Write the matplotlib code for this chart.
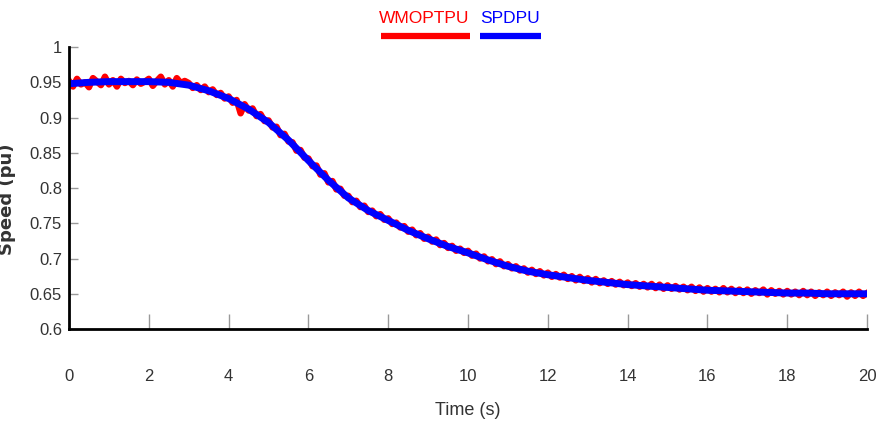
import matplotlib
matplotlib.use("Agg")
import matplotlib.pyplot as plt
from matplotlib.lines import Line2D
import numpy as np

# smooth speed (SPDPU), every 0.5 s
t_blue = np.arange(0, 20.5, 0.5)
spdpu = [0.948, 0.950, 0.951, 0.951, 0.951, 0.950, 0.946, 0.938, 0.927, 0.912,
         0.893, 0.868, 0.839, 0.811, 0.786, 0.768, 0.754, 0.740, 0.728, 0.717,
         0.708, 0.698, 0.689, 0.682, 0.677, 0.673, 0.669, 0.666, 0.663, 0.661,
         0.659, 0.657, 0.655, 0.654, 0.653, 0.652, 0.651, 0.651, 0.650, 0.650,
         0.650]

# noisy measured speed (WMOPTPU), every 0.1 s
t_red = np.round(np.arange(0, 20.05, 0.1), 1)
wmoptpu = [
    0.952, 0.944, 0.955, 0.947, 0.950, 0.943, 0.956, 0.951, 0.946, 0.958,
    0.947, 0.953, 0.944, 0.955, 0.949, 0.952, 0.946, 0.954, 0.948, 0.951,
    0.955, 0.945, 0.952, 0.958, 0.947, 0.953, 0.944, 0.956, 0.949, 0.952,
    0.949, 0.942, 0.946, 0.939, 0.944, 0.936, 0.940, 0.932, 0.935, 0.927,
    0.930, 0.921, 0.925, 0.906, 0.919, 0.910, 0.913, 0.902, 0.905, 0.895,
    0.896, 0.886, 0.887, 0.875, 0.877, 0.866, 0.865, 0.853, 0.854, 0.843,
    0.842, 0.831, 0.832, 0.819, 0.821, 0.808, 0.810, 0.798, 0.799, 0.789,
    0.789, 0.780, 0.782, 0.773, 0.775, 0.766, 0.768, 0.760, 0.763, 0.755,
    0.757, 0.749, 0.751, 0.744, 0.746, 0.738, 0.741, 0.733, 0.736, 0.728,
    0.731, 0.724, 0.727, 0.719, 0.722, 0.715, 0.718, 0.711, 0.714, 0.708,
    0.711, 0.704, 0.707, 0.700, 0.703, 0.696, 0.699, 0.692, 0.696, 0.689,
    0.692, 0.686, 0.689, 0.683, 0.686, 0.680, 0.684, 0.678, 0.682, 0.676,
    0.680, 0.674, 0.678, 0.673, 0.677, 0.671, 0.675, 0.669, 0.674, 0.668,
    0.672, 0.666, 0.671, 0.665, 0.669, 0.664, 0.668, 0.663, 0.667, 0.662,
    0.666, 0.661, 0.665, 0.660, 0.664, 0.659, 0.664, 0.658, 0.663, 0.657,
    0.662, 0.657, 0.661, 0.656, 0.660, 0.655, 0.660, 0.654, 0.659, 0.653,
    0.658, 0.653, 0.657, 0.652, 0.658, 0.652, 0.657, 0.651, 0.656, 0.651,
    0.656, 0.650, 0.655, 0.651, 0.656, 0.649, 0.655, 0.650, 0.654, 0.649,
    0.654, 0.649, 0.653, 0.648, 0.654, 0.648, 0.653, 0.647, 0.652, 0.648,
    0.653, 0.647, 0.652, 0.648, 0.653, 0.646, 0.652, 0.647, 0.653, 0.647,
    0.651]

x_ticks = np.arange(0, 21, 2)
y_ticks = [0.6, 0.65, 0.7, 0.75, 0.8, 0.85, 0.9, 0.95, 1]
y_labels = ["0.6", "0.65", "0.7", "0.75", "0.8", "0.85", "0.9", "0.95", "1"]

font = ["Liberation Sans", "DejaVu Sans"]
txt = "#333333"

fig = plt.figure(figsize=(8.76, 4.32), dpi=100)
ax = fig.add_axes([0.0788, 0.2384, 0.911, 0.6526])

ax.plot(t_red, wmoptpu, color="#ff0000", lw=4.6, solid_joinstyle="round")
ax.plot(t_blue, spdpu, color="#0000ff", lw=5.0, solid_capstyle="butt")

ax.set_xlim(0, 20)
ax.set_ylim(0.6, 1)
ax.set_xticks(x_ticks)
ax.set_xticklabels([str(v) for v in x_ticks], family=font, fontsize=12, color=txt)
ax.set_yticks(y_ticks)
ax.set_yticklabels(y_labels, family=font, fontsize=12, color=txt)

ax.spines["top"].set_color("none")
ax.spines["right"].set_color("none")
ax.spines["left"].set_linewidth(2)
ax.spines["bottom"].set_linewidth(2)
ax.tick_params(axis="x", direction="in", length=11, width=1, color="#999999", pad=29)
ax.tick_params(axis="y", direction="in", length=6.5, width=1, color="#999999", pad=5)

ax.set_xlabel("Time (s)", family=font, fontsize=13, color=txt, labelpad=13)
ax.set_ylabel("Speed (pu)", family="DejaVu Sans", fontsize=13, fontweight="bold",
              color=txt)
ax.yaxis.set_label_coords(-0.066, 0.46)

# legend: coloured names with a thick bar underneath
fig.text(0.4326, 0.958, "WMOPTPU", color="#ff0000", family=font, fontsize=12.5,
         ha="left", va="center")
fig.add_artist(Line2D([0.4349, 0.5365], [0.917, 0.917], color="#ff0000", lw=4.5,
                      transform=fig.transFigure, solid_capstyle="butt"))
fig.text(0.5479, 0.958, "SPDPU", color="#0000ff", family=font, fontsize=12.5,
         ha="left", va="center")
fig.add_artist(Line2D([0.5479, 0.6176], [0.917, 0.917], color="#0000ff", lw=4.5,
                      transform=fig.transFigure, solid_capstyle="butt"))

fig.savefig("out.png", dpi=100)
